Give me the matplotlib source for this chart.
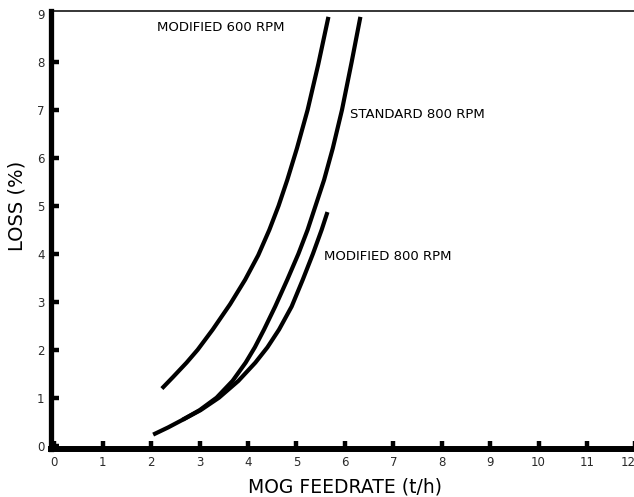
import matplotlib
matplotlib.use('Agg')
import matplotlib.pyplot as plt

# ── data ────────────────────────────────────────────────────────────────────
mod600_x = [2.22, 2.45, 2.73, 2.96, 3.27, 3.63, 3.94, 4.21, 4.44, 4.63, 4.81,
            5.01, 5.23, 5.45, 5.66]
mod600_y = [1.19, 1.43, 1.73, 2.0, 2.42, 2.95, 3.46, 3.97, 4.5, 5.0, 5.54,
            6.2, 7.0, 7.95, 8.94]

std800_x = [2.04, 2.35, 2.65, 3.0, 3.35, 3.68, 3.95, 4.14, 4.33, 4.56, 4.81,
            5.04, 5.23, 5.57, 5.75, 5.94, 6.14, 6.32]
std800_y = [0.23, 0.38, 0.54, 0.74, 1.0, 1.35, 1.73, 2.05, 2.42, 2.9, 3.46,
            4.0, 4.5, 5.54, 6.2, 7.0, 8.0, 8.94]

mod800_x = [2.65, 3.02, 3.4, 3.8, 4.15, 4.4, 4.64, 4.9, 5.13, 5.34, 5.52, 5.64]
mod800_y = [0.54, 0.74, 1.0, 1.35, 1.73, 2.05, 2.42, 2.9, 3.46, 4.0, 4.5, 4.87]

x_ticks = list(range(0, 13))
y_ticks = list(range(0, 10))

# ── figure ──────────────────────────────────────────────────────────────────
fig = plt.figure(figsize=(6.34, 4.97), dpi=100)
fig.patch.set_facecolor('white')
ax = fig.add_axes([0.0812, 0.0966, 0.921, 0.882])

for xs, ys in [(mod600_x, mod600_y), (std800_x, std800_y), (mod800_x, mod800_y)]:
    ax.plot(xs, ys, color='black', lw=3.0, solid_capstyle='butt',
            solid_joinstyle='round')

ax.set_xlim(-0.06, 12.0)
ax.set_ylim(-0.07, 9.07)
ax.set_xticks(x_ticks)
ax.set_yticks(y_ticks)

# spines: heavy left/bottom, thin top, no right
ax.spines['left'].set_linewidth(3.8)
ax.spines['bottom'].set_linewidth(4.3)
ax.spines['top'].set_linewidth(1.1)
ax.spines['right'].set_visible(False)

ax.tick_params(axis='both', direction='in', length=5.5, width=3.2,
               colors='black', labelcolor='#2a2a2a', labelsize=8.5)
ax.tick_params(axis='x', pad=5)
ax.tick_params(axis='y', pad=5)
ax.tick_params(top=False, right=False)

# no tick mark at 9 on the y axis
ax.yaxis.get_major_ticks()[-1].tick1line.set_visible(False)
# keep "12" inside the figure
ax.get_xticklabels()[-1].set_horizontalalignment('right')

# curve labels
ax.text(2.12, 8.71, 'MODIFIED 600 RPM', fontsize=9.5, va='center', ha='left')
ax.text(6.1, 6.9, 'STANDARD 800 RPM', fontsize=9.5, va='center', ha='left')
ax.text(5.57, 3.94, 'MODIFIED 800 RPM', fontsize=9.5, va='center', ha='left')

# axis titles
fig.text(17 / 634, 1 - 206 / 497, 'LOSS (%)', rotation=90, fontsize=14,
         ha='center', va='center')
fig.text(345 / 634, 1 - 487 / 497, 'MOG FEEDRATE (t/h)', fontsize=13.5,
         ha='center', va='center')

plt.savefig('out.png', dpi=100, facecolor=fig.get_facecolor())
plt.close()
